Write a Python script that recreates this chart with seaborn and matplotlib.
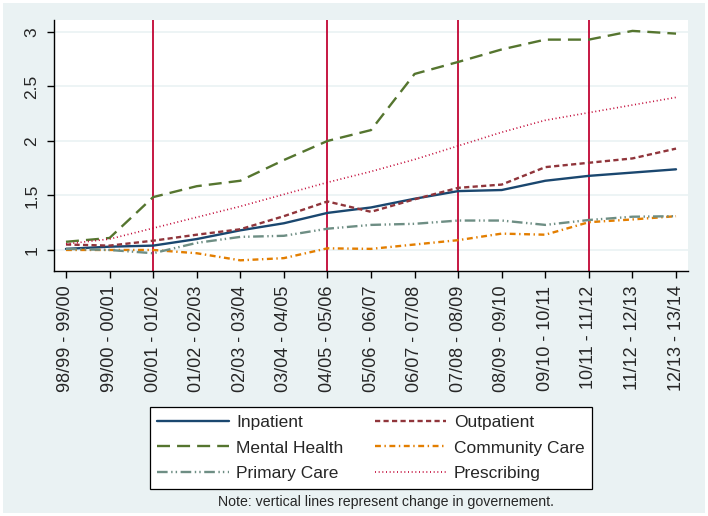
import matplotlib
matplotlib.use('Agg')
import matplotlib.pyplot as plt
import matplotlib.patches as mpatches
from matplotlib.lines import Line2D
import pandas as pd
import seaborn as sns

# periods on the x axis
periods = ['98/99 - 99/00', '99/00 - 00/01', '00/01 - 01/02', '01/02 - 02/03',
           '02/03 - 03/04', '03/04 - 04/05', '04/05 - 05/06', '05/06 - 06/07',
           '06/07 - 07/08', '07/08 - 08/09', '08/09 - 09/10', '09/10 - 10/11',
           '10/11 - 11/12', '11/12 - 12/13', '12/13 - 13/14']

inpatient = [1.01, 1.03, 1.04, 1.10, 1.18, 1.245, 1.34, 1.39, 1.47, 1.54, 1.55, 1.635, 1.68, 1.71, 1.74]
outpatient = [1.05, 1.04, 1.085, 1.14, 1.19, 1.31, 1.445, 1.35, 1.465, 1.57, 1.60, 1.76, 1.80, 1.84, 1.93]
mental_health = [1.075, 1.11, 1.485, 1.585, 1.635, 1.825, 2.0, 2.10, 2.615, 2.725, 2.84, 2.93, 2.93, 3.01, 2.985]
community_care = [1.0, 1.0, 1.0, 0.97, 0.905, 0.925, 1.015, 1.01, 1.05, 1.09, 1.15, 1.14, 1.255, 1.28, 1.31]
primary_care = [1.01, 1.0, 0.97, 1.065, 1.12, 1.13, 1.195, 1.23, 1.24, 1.27, 1.27, 1.23, 1.275, 1.305, 1.31]
prescribing = [1.055, 1.10, 1.20, 1.30, 1.40, 1.51, 1.62, 1.72, 1.83, 1.955, 2.08, 2.19, 2.26, 2.33, 2.40]

series = ['Inpatient', 'Outpatient', 'Mental Health', 'Community Care', 'Primary Care', 'Prescribing']
values = [inpatient, outpatient, mental_health, community_care, primary_care, prescribing]

# periods where government changed
gov_change = ['00/01 - 01/02', '04/05 - 05/06', '07/08 - 08/09', '10/11 - 11/12']

colors = {'Inpatient': '#1a476f', 'Outpatient': '#90353b', 'Mental Health': '#55752f',
          'Community Care': '#e37e00', 'Primary Care': '#6e8e84', 'Prescribing': '#c10534'}
dashes = {'Inpatient': '', 'Outpatient': (2.2, 1.4), 'Mental Health': (5.5, 3),
          'Community Care': (2.5, 1.5, 0.6, 1.5), 'Primary Care': (4.5, 1.5, 0.6, 1.3, 0.6, 1.5),
          'Prescribing': (0.6, 1.6)}

rows = []
for name, vals in zip(series, values):
    for i, v in enumerate(vals):
        rows.append({'idx': i, 'value': v, 'series': name})
df = pd.DataFrame(rows)

sns.set_style('white')
plt.rcParams['font.family'] = ['Liberation Sans', 'DejaVu Sans']

bg = '#eaf2f3'
fig = plt.figure(figsize=(7.08, 5.16), dpi=100, facecolor='white')
fig.patches.append(mpatches.Rectangle((3 / 708, 3 / 516), 702 / 708, 510 / 516,
                                      transform=fig.transFigure, facecolor=bg,
                                      edgecolor='none', zorder=-10))
ax = fig.add_axes([54 / 708, 1 - 271 / 516, 634 / 708, 251 / 516])
ax.set_facecolor('white')

for p in gov_change:
    ax.axvline(periods.index(p), color='#c10534', lw=1.3, zorder=1)

sns.lineplot(data=df, x='idx', y='value', hue='series', style='series',
             palette=colors, dashes=dashes, hue_order=series, style_order=series,
             lw=1.7, ax=ax, legend=False, zorder=3)
# prescribing is drawn thinner
ax.lines[-1].set_linewidth(1.2)

ax.set_xlim(-0.275, 14.275)
ax.set_ylim(0.807, 3.11)
ax.set_xticks(range(len(periods)))
ax.set_xticklabels(periods, rotation=90, fontsize=13)
ax.set_yticks([1, 1.5, 2, 2.5, 3])
ax.set_yticklabels(['1', '1.5', '2', '2.5', '3'], rotation=90, va='center', fontsize=12.5)
ax.yaxis.grid(True, color=bg, lw=1.2)
ax.set_axisbelow(True)
ax.set_xlabel('')
ax.set_ylabel('')
for s in ['top', 'right']:
    ax.spines[s].set_visible(False)
for s in ['left', 'bottom']:
    ax.spines[s].set_color('black')
    ax.spines[s].set_linewidth(1.0)
ax.tick_params(axis='both', direction='out', length=5, width=1, color='black', pad=5.5,
               left=True, bottom=True)

handles = {n: Line2D([], [], color=colors[n], lw=1.7 if n != 'Prescribing' else 1.2,
                     dashes=dashes[n] if dashes[n] else (None, None)) for n in series}
handles['Inpatient'].set_linestyle('-')
# legend is filled row by row, matplotlib fills columns
leg_order = ['Inpatient', 'Mental Health', 'Primary Care', 'Outpatient', 'Community Care', 'Prescribing']
leg = fig.legend([handles[n] for n in leg_order], leg_order, ncol=2, loc='upper center',
                 bbox_to_anchor=(371 / 708, 1 - 407 / 516), fontsize=12.5,
                 frameon=True, fancybox=False, edgecolor='black', facecolor='white',
                 framealpha=1, handlelength=4.1, handletextpad=0.45, borderaxespad=0,
                 columnspacing=1.8, labelspacing=0.6, borderpad=0.45)
leg.get_frame().set_linewidth(0.9)

fig.text(218 / 708, 1 - 502 / 516, 'Note: vertical lines represent change in governement.',
         fontsize=10.2, ha='left', va='center')

plt.savefig('out.png', dpi=100, facecolor=fig.get_facecolor())
